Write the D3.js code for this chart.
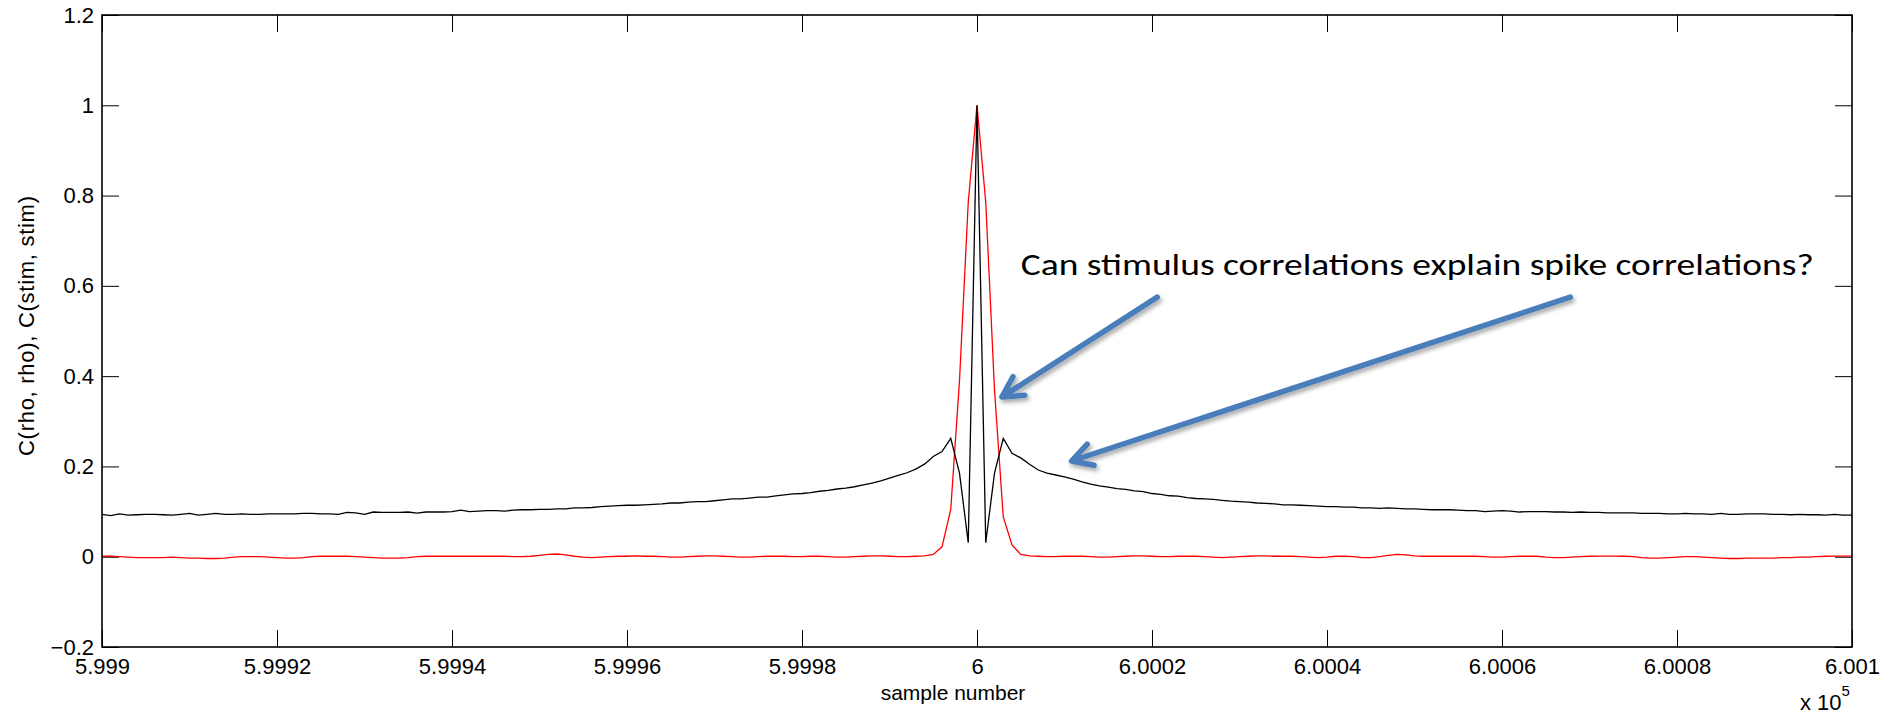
<!DOCTYPE html>
<html>
<head>
<meta charset="utf-8">
<script src="https://cdn.jsdelivr.net/npm/d3@7"></script>
<style>
  html, body { margin: 0; padding: 0; background: #ffffff; }
  svg { display: block; }
</style>
</head>
<body>
<svg id="chart" width="1885" height="717"></svg>
<script>
// ---------------- DATA ----------------
const sampleStart = 599900;   // first sample number
const sampleEnd = 600100;     // last sample number

// C(rho, rho) : black curve, one value per sample from 599900 to 600100
const rhoLeft = [
  0.094, 0.091, 0.095, 0.092, 0.093, 0.094, 0.094, 0.093, 0.092, 0.094,
  0.096, 0.092, 0.094, 0.096, 0.094, 0.094, 0.095, 0.094, 0.094, 0.095,
  0.095, 0.095, 0.095, 0.096, 0.096, 0.095, 0.095, 0.094, 0.098, 0.097,
  0.094, 0.099, 0.098, 0.098, 0.098, 0.099, 0.0965, 0.099, 0.099, 0.099,
  0.100, 0.103, 0.100, 0.101, 0.102, 0.102, 0.101, 0.103, 0.104, 0.104,
  0.105, 0.105, 0.106, 0.106, 0.108, 0.108, 0.109, 0.111, 0.112, 0.113,
  0.114, 0.114, 0.115, 0.116, 0.117, 0.119, 0.119, 0.121, 0.122, 0.122,
  0.124, 0.126, 0.128, 0.128, 0.130, 0.132, 0.132, 0.135, 0.137, 0.139,
  0.140, 0.142, 0.145, 0.147, 0.150, 0.152, 0.155, 0.159, 0.163, 0.168,
  0.174, 0.180, 0.186, 0.194, 0.205, 0.222, 0.233, 0.262, 0.185, 0.031
];
const rhoCenter = [1.0];
const rhoRight = [
  0.031, 0.185, 0.262, 0.229, 0.219, 0.205, 0.192, 0.185, 0.181, 0.177,
  0.172, 0.166, 0.161, 0.157, 0.154, 0.151, 0.149, 0.146, 0.144, 0.140,
  0.138, 0.135, 0.134, 0.131, 0.129, 0.128, 0.127, 0.125, 0.123, 0.122,
  0.121, 0.119, 0.118, 0.117, 0.115, 0.115, 0.114, 0.113, 0.112, 0.111,
  0.111, 0.110, 0.110, 0.108, 0.108, 0.107, 0.108, 0.107, 0.106, 0.106,
  0.105, 0.104, 0.104, 0.104, 0.103, 0.102, 0.102, 0.100, 0.101, 0.102,
  0.101, 0.099, 0.100, 0.100, 0.100, 0.099, 0.099, 0.098, 0.099, 0.098,
  0.098, 0.097, 0.097, 0.097, 0.097, 0.096, 0.096, 0.096, 0.095, 0.095,
  0.096, 0.095, 0.095, 0.094, 0.096, 0.094, 0.094, 0.095, 0.095, 0.095,
  0.094, 0.094, 0.093, 0.094, 0.093, 0.093, 0.092, 0.094, 0.092, 0.092
];

// C(stim, stim) : red curve, one value per sample from 599900 to 600100
const stimLeft = [
  0.001, 0.001, 0.000, -0.001, -0.002, -0.002, -0.002, -0.002, -0.001, -0.002,
  -0.003, -0.003, -0.004, -0.004, -0.003, -0.001, 0.000, 0.000, 0.000, -0.001,
  -0.002, -0.003, -0.003, -0.002, 0.000, 0.001, 0.0015, 0.001, 0.001, 0.000,
  -0.001, -0.002, -0.003, -0.003, -0.003, -0.002, 0.000, 0.001, 0.0015, 0.001,
  0.001, 0.001, 0.001, 0.001, 0.001, 0.001, 0.001, 0.000, 0.000, 0.001,
  0.003, 0.005, 0.006, 0.004, 0.001, -0.001, -0.002, -0.001, 0.000, 0.001,
  0.001, 0.002, 0.001, 0.001, 0.000, -0.001, -0.001, 0.000, 0.001, 0.002,
  0.002, 0.001, 0.000, -0.001, -0.001, 0.000, 0.001, 0.001, 0.001, 0.000,
  0.000, 0.001, 0.001, 0.000, -0.001, -0.001, 0.000, 0.001, 0.002, 0.002,
  0.001, 0.000, 0.000, 0.001, 0.002, 0.005, 0.022, 0.105, 0.390, 0.785
];
const stimCenter = [1.0];
const stimRight = [
  0.785, 0.370, 0.088, 0.026, 0.005, 0.002, 0.001, 0.000, 0.000, 0.001,
  0.001, 0.001, 0.000, -0.001, -0.001, 0.000, 0.001, 0.002, 0.002, 0.001,
  0.000, 0.000, 0.001, 0.001, 0.001, 0.000, -0.001, -0.002, -0.001, 0.000,
  0.001, 0.002, 0.002, 0.001, 0.001, 0.001, 0.000, -0.001, -0.002, -0.001,
  0.001, 0.001, 0.000, -0.002, -0.002, 0.000, 0.003, 0.005, 0.004, 0.002,
  0.001, 0.001, 0.001, 0.001, 0.001, 0.001, 0.001, 0.000, -0.001, -0.001,
  0.000, 0.001, 0.001, 0.001, -0.001, -0.002, -0.002, -0.001, 0.000, 0.001,
  0.0015, 0.0015, 0.0015, 0.001, 0.000, -0.002, -0.003, -0.003, -0.002, -0.001,
  0.000, 0.000, -0.001, -0.002, -0.003, -0.004, -0.004, -0.003, -0.003, -0.003,
  -0.003, -0.002, -0.002, -0.001, -0.001, 0.000, 0.001, 0.0015, 0.0015, 0.0015
];

const rhoValues = rhoLeft.concat(rhoCenter, rhoRight);
const stimValues = stimLeft.concat(stimCenter, stimRight);

const xTickValues = [599900, 599920, 599940, 599960, 599980, 600000, 600020, 600040, 600060, 600080, 600100];
const xTickLabels = ["5.999", "5.9992", "5.9994", "5.9996", "5.9998", "6", "6.0002", "6.0004", "6.0006", "6.0008", "6.001"];
const yTickValues = [-0.2, 0, 0.2, 0.4, 0.6, 0.8, 1, 1.2];
const yTickLabels = ["\u22120.2", "0", "0.2", "0.4", "0.6", "0.8", "1", "1.2"];

const xLabel = "sample number";
const yLabel = "C(rho, rho), C(stim, stim)";
const exponentBase = "x 10";
const exponentPower = "5";
const annotationText = "Can stimulus correlations explain spike correlations?";

// annotation anchors in data units: [sample, value]
const annotationTextPos = [600005.0, 0.624];
const arrowA = { from: [600020.6, 0.575], to: [600002.85, 0.354] };
const arrowB = { from: [600067.8, 0.575], to: [600010.8, 0.212] };

// ---------------- LAYOUT ----------------
const W = 1885, H = 717;
const plot = { left: 102, right: 1852, top: 15, bottom: 647 };
const tickLen = 17;
const tickFont = "'Liberation Sans', Arial, Helvetica, sans-serif";
const fontSize = 22;

const svg = d3.select("#chart");

const x = d3.scaleLinear().domain([sampleStart, sampleEnd]).range([plot.left, plot.right]);
const y = d3.scaleLinear().domain([-0.2, 1.2]).range([plot.bottom, plot.top]);

const samples = d3.range(sampleStart, sampleEnd + 1);

const defs = svg.append("defs");
defs.append("clipPath").attr("id", "plotClip")
  .append("rect")
  .attr("x", plot.left).attr("y", plot.top)
  .attr("width", plot.right - plot.left).attr("height", plot.bottom - plot.top);

// axes
function styleAxis(g) {
  g.select(".domain").remove();
  g.selectAll(".tick line").attr("stroke", "#000").attr("stroke-width", 1);
  g.selectAll(".tick text")
    .attr("fill", "#000")
    .style("font-family", tickFont)
    .style("font-size", fontSize + "px");
}

svg.append("g")
  .attr("transform", `translate(0,${plot.bottom})`)
  .call(d3.axisBottom(x).tickValues(xTickValues)
    .tickFormat((d, i) => xTickLabels[i])
    .tickSizeInner(-tickLen).tickSizeOuter(0).tickPadding(11))
  .call(styleAxis);

svg.append("g")
  .attr("transform", `translate(0,${plot.top})`)
  .call(d3.axisTop(x).tickValues(xTickValues).tickFormat("")
    .tickSizeInner(-tickLen).tickSizeOuter(0))
  .call(styleAxis);

svg.append("g")
  .attr("transform", `translate(${plot.left},0)`)
  .call(d3.axisLeft(y).tickValues(yTickValues)
    .tickFormat((d, i) => yTickLabels[i])
    .tickSizeInner(-tickLen).tickSizeOuter(0).tickPadding(8))
  .call(styleAxis);

svg.append("g")
  .attr("transform", `translate(${plot.right},0)`)
  .call(d3.axisRight(y).tickValues(yTickValues).tickFormat("")
    .tickSizeInner(-tickLen).tickSizeOuter(0))
  .call(styleAxis);

// lines
const line = d3.line().x((d, i) => x(samples[i])).y(d => y(d));
const lines = svg.append("g").attr("clip-path", "url(#plotClip)");
lines.append("path").datum(stimValues)
  .attr("d", line).attr("fill", "none").attr("stroke", "#ff0000").attr("stroke-width", 1.3);
lines.append("path").datum(rhoValues)
  .attr("d", line).attr("fill", "none").attr("stroke", "#000000").attr("stroke-width", 1.3);

// frame
svg.append("rect")
  .attr("x", plot.left).attr("y", plot.top)
  .attr("width", plot.right - plot.left).attr("height", plot.bottom - plot.top)
  .attr("fill", "none").attr("stroke", "#000").attr("stroke-width", 1.6);

// axis labels
svg.append("text")
  .attr("x", 953).attr("y", 700)
  .attr("text-anchor", "middle")
  .style("font-family", tickFont).style("font-size", "21px")
  .text(xLabel);

svg.append("text")
  .attr("transform", `translate(34,326) rotate(-90)`)
  .attr("text-anchor", "middle")
  .attr("textLength", 260).attr("lengthAdjust", "spacing")
  .style("font-family", tickFont).style("font-size", "22px")
  .text(yLabel);

const expText = svg.append("text")
  .attr("x", 1800).attr("y", 710)
  .style("font-family", tickFont).style("font-size", fontSize + "px");
expText.append("tspan").text(exponentBase);
expText.append("tspan").attr("dy", -14).style("font-size", "15px").text(exponentPower);

// annotation text
svg.append("text")
  .attr("x", x(annotationTextPos[0])).attr("y", y(annotationTextPos[1]))
  .attr("textLength", 793).attr("lengthAdjust", "spacingAndGlyphs")
  .style("font-family", "Carlito, Calibri, Lato, 'Open Sans', sans-serif")
  .style("font-size", "30px")
  .attr("fill", "#000")
  .text(annotationText);

// arrows with shadow
const filt = defs.append("filter").attr("id", "shadow")
  .attr("x", "-20%").attr("y", "-20%").attr("width", "140%").attr("height", "140%");
filt.append("feDropShadow")
  .attr("dx", 2).attr("dy", 3).attr("stdDeviation", 2)
  .attr("flood-color", "#000").attr("flood-opacity", 0.35);

const arrowColor = "#4a7ebb";
const arrowG = svg.append("g").attr("filter", "url(#shadow)");

function drawArrow(a) {
  const x1 = x(a.from[0]), y1 = y(a.from[1]);
  const x2 = x(a.to[0]), y2 = y(a.to[1]);
  const ang = Math.atan2(y1 - y2, x1 - x2);
  const barb = 23, spread = 0.5;
  const p1 = [x2 + barb * Math.cos(ang + spread), y2 + barb * Math.sin(ang + spread)];
  const p2 = [x2 + barb * Math.cos(ang - spread), y2 + barb * Math.sin(ang - spread)];
  const path = d3.path();
  path.moveTo(x1, y1); path.lineTo(x2, y2);
  path.moveTo(p1[0], p1[1]); path.lineTo(x2, y2); path.lineTo(p2[0], p2[1]);
  arrowG.append("path").attr("d", path.toString())
    .attr("fill", "none").attr("stroke", arrowColor)
    .attr("stroke-width", 5.5).attr("stroke-linecap", "round").attr("stroke-linejoin", "round");
}
drawArrow(arrowA);
drawArrow(arrowB);
</script>
</body>
</html>
